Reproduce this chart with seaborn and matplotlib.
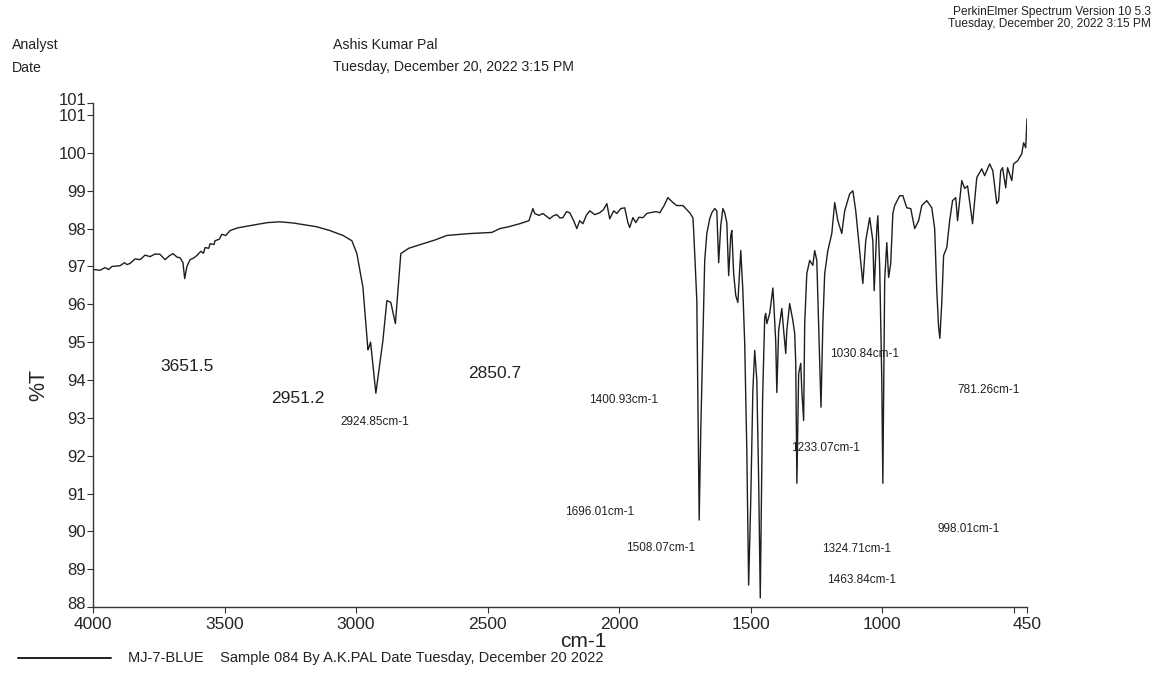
import matplotlib
matplotlib.use("Agg")
import matplotlib.pyplot as plt
import matplotlib.transforms as mtransforms
import seaborn as sns
import pandas as pd

# FT-IR spectrum: wavenumber (cm-1) and transmittance (%T)
wavenumber = [
    4000, 3973, 3954, 3940, 3928, 3897, 3880, 3871, 3859, 3840, 3821, 3802, 3783,
    3764, 3745, 3726, 3710, 3696, 3681, 3669, 3658, 3651.5, 3643, 3631, 3618, 3605,
    3590, 3580, 3574, 3560, 3555, 3540, 3536, 3520, 3510, 3495, 3479, 3450, 3403,
    3370, 3335, 3290, 3240, 3195, 3150, 3100, 3050, 3016, 2997, 2974, 2955, 2951.2,
    2945, 2924.85, 2898, 2883, 2868, 2850.7, 2830, 2800, 2769, 2700, 2655, 2568,
    2484, 2454, 2420, 2378, 2343, 2328, 2321, 2305, 2290, 2264, 2250, 2237, 2225,
    2214, 2200, 2188, 2173, 2161, 2150, 2138, 2125, 2112, 2093, 2074, 2060, 2047,
    2036, 2021, 2009, 1994, 1979, 1967, 1960, 1948, 1937, 1925, 1910, 1895, 1884,
    1860, 1846, 1830, 1815, 1796, 1781, 1758, 1732, 1720, 1717, 1705, 1696.01, 1690,
    1682, 1675, 1667, 1656, 1648, 1637, 1629, 1622, 1614, 1606, 1599, 1591, 1584,
    1576, 1572, 1565, 1557, 1549, 1542, 1538, 1530, 1523, 1515, 1508.07, 1500, 1492,
    1485, 1477, 1470, 1463.84, 1455, 1447, 1443, 1439, 1428, 1416, 1413, 1405,
    1400.93, 1394, 1382, 1375, 1367, 1363, 1352, 1340, 1333, 1329, 1324.71, 1318,
    1310, 1306, 1299, 1295, 1287, 1276, 1264, 1257, 1249, 1242, 1233.07, 1226, 1219,
    1207, 1192, 1181, 1169, 1154, 1143, 1124, 1112, 1101, 1090, 1074, 1063, 1048,
    1036, 1030.84, 1021, 1017, 1010, 1002, 998.01, 994, 991, 983, 976, 968, 960, 953,
    934, 922, 907, 892, 877, 862, 850, 831, 812, 801, 793, 786, 781.26, 774, 767,
    755, 744, 733, 721, 714, 698, 687, 676, 657, 641, 622, 611, 592, 580, 565, 558,
    550, 543, 531, 524, 508, 501, 486, 470, 463, 455, 450,
]
transmittance = [
    96.92, 96.90, 96.97, 96.92, 97.00, 97.02, 97.10, 97.05, 97.08, 97.20, 97.18, 97.30, 97.26,
    97.33, 97.32, 97.18, 97.28, 97.34, 97.25, 97.23, 97.10, 96.68, 97.00, 97.18, 97.22, 97.29,
    97.40, 97.35, 97.50, 97.48, 97.60, 97.58, 97.68, 97.72, 97.85, 97.82, 97.95, 98.02, 98.08,
    98.12, 98.16, 98.18, 98.15, 98.10, 98.05, 97.95, 97.82, 97.68, 97.34, 96.45, 94.80, 94.86,
    95.00, 93.65, 95.05, 96.10, 96.05, 95.49, 97.34, 97.48, 97.55, 97.70, 97.82, 97.87,
    97.90, 98.00, 98.05, 98.13, 98.21, 98.53, 98.40, 98.35, 98.40, 98.26, 98.34, 98.37, 98.28,
    98.29, 98.45, 98.42, 98.21, 98.00, 98.21, 98.13, 98.35, 98.47, 98.37, 98.42, 98.50, 98.66,
    98.26, 98.47, 98.40, 98.53, 98.55, 98.16, 98.03, 98.29, 98.16, 98.30, 98.29, 98.40, 98.42,
    98.45, 98.42, 98.60, 98.82, 98.69, 98.61, 98.61, 98.42, 98.29, 97.95, 96.10, 90.30, 92.67,
    95.05, 97.16, 97.87, 98.26, 98.42, 98.53, 98.47, 97.10, 98.08, 98.53, 98.42, 98.16, 96.76,
    97.82, 97.95, 96.81, 96.23, 96.05, 96.89, 97.42, 96.36, 94.97, 92.14, 88.58, 90.82, 93.73,
    94.78, 94.00, 91.36, 88.24, 93.50, 95.65, 95.76, 95.49, 95.76, 96.43, 96.10, 95.00,
    93.67, 95.31, 95.89, 95.31, 94.70, 95.31, 96.02, 95.57, 95.23, 94.44, 91.27, 94.17,
    94.44, 93.73, 92.93, 95.49, 96.81, 97.16, 97.03, 97.42, 97.16, 95.49, 93.28, 95.49, 96.81,
    97.42, 97.87, 98.69, 98.21, 97.87, 98.47, 98.92, 99.00, 98.47, 97.68, 96.55, 97.68, 98.29,
    97.68, 96.36, 98.00, 98.34, 97.00, 94.00, 91.27, 94.50, 96.63, 97.63, 96.71, 97.08, 98.40, 98.61,
    98.87, 98.87, 98.55, 98.53, 98.00, 98.21, 98.61, 98.74, 98.55, 98.00, 96.36, 95.39, 95.10, 96.05, 97.29,
    97.50, 98.21, 98.74, 98.82, 98.21, 99.27, 99.06, 99.13, 98.13, 99.35, 99.58, 99.40, 99.71, 99.53, 98.66, 98.74,
    99.53, 99.61, 99.08, 99.61, 99.27, 99.71, 99.79, 99.98, 100.27, 100.14, 100.90,
]

# Peak annotations: text and where each label sits (wavenumber, %T)
peak_labels = ["3651.5", "2951.2", "2850.7", "2924.85cm-1", "1400.93cm-1",
               "1696.01cm-1", "1508.07cm-1", "1030.84cm-1", "1233.07cm-1",
               "781.26cm-1", "998.01cm-1", "1324.71cm-1", "1463.84cm-1"]
label_wn = [3643, 3221, 2473, 2929, 1982, 2074, 1842, 1067, 1215, 596, 672, 1097, 1078]
label_t = [94.36, 93.51, 94.17, 92.88, 93.46, 90.51, 89.56, 94.70, 92.20, 93.73, 90.06, 89.53, 88.71]
label_size = [12.5, 12.5, 12.5, 8.5, 8.5, 8.5, 8.5, 8.5, 8.5, 8.5, 8.5, 8.5, 8.5]

x_ticks = [4000, 3500, 3000, 2500, 2000, 1500, 1000, 500, 450]
x_ticklabels = ["4000", "3500", "3000", "2500", "2000", "1500", "1000", "", "450"]
y_ticks = [88, 89, 90, 91, 92, 93, 94, 95, 96, 97, 98, 99, 100, 101, 101.32]
y_ticklabels = ["88", "89", "90", "91", "92", "93", "94", "95", "96", "97", "98", "99", "100", "101", "101"]

sns.set_theme(style="white")
plt.rcParams["font.family"] = ["Liberation Sans", "DejaVu Sans"]

df = pd.DataFrame({"wn": wavenumber, "T": transmittance})

fig = plt.figure(figsize=(11.55, 6.75), dpi=100)
ax = fig.add_axes([0.0805, 0.1007, 0.8087, 0.7467])

sns.lineplot(data=df, x="wn", y="T", ax=ax, color="#1e1e1e", linewidth=1.0,
             sort=False, estimator=None)

ax.set_xlim(4000, 450)
ax.set_ylim(88, 101.32)
ax.set_xticks(x_ticks)
ax.set_xticklabels(x_ticklabels, fontsize=12.5)
ax.set_yticks(y_ticks)
ax.set_yticklabels(y_ticklabels, fontsize=12)
ax.tick_params(axis="both", direction="out", length=4, width=0.8, color="#333333",
               bottom=True, left=True)
ax.tick_params(axis="x", pad=3)
ax.tick_params(axis="y", pad=1)

# lift the end-of-scale labels a little so they clear their neighbours
top_lbl = ax.get_yticklabels()[-1]
top_lbl.set_transform(top_lbl.get_transform() +
                      mtransforms.ScaledTranslation(0, 3 / 72, fig.dpi_scale_trans))
bot_lbl = ax.get_yticklabels()[0]
bot_lbl.set_transform(bot_lbl.get_transform() +
                      mtransforms.ScaledTranslation(0, 3 / 72, fig.dpi_scale_trans))

for side in ["top", "right"]:
    ax.spines[side].set_visible(False)
for side in ["left", "bottom"]:
    ax.spines[side].set_color("#333333")
    ax.spines[side].set_linewidth(1.0)

ax.set_xlabel("")
ax.set_ylabel("%T", fontsize=15.5)
ax.yaxis.set_label_coords(-0.047, 0.44)

for txt, xw, yt, fs in zip(peak_labels, label_wn, label_t, label_size):
    ax.text(xw, yt, txt, fontsize=fs, ha="center", va="center", color="#222222")

# Axis unit under the plot
fig.text(0.505, 0.050, "cm-1", fontsize=15, ha="center", va="center", color="#222222")

# Header block
fig.text(0.0105, 0.933, "Analyst", fontsize=10.2, ha="left", va="center", color="#222222")
fig.text(0.0105, 0.900, "Date", fontsize=10.2, ha="left", va="center", color="#222222")
fig.text(0.288, 0.933, "Ashis Kumar Pal", fontsize=10.2, ha="left", va="center", color="#222222")
fig.text(0.288, 0.900, "Tuesday, December 20, 2022 3:15 PM", fontsize=10.2,
         ha="left", va="center", color="#222222")
fig.text(0.9965, 0.982, "PerkinElmer Spectrum Version 10 5.3", fontsize=8.6,
         ha="right", va="center", color="#222222")
fig.text(0.9965, 0.965, "Tuesday, December 20, 2022 3:15 PM", fontsize=8.6,
         ha="right", va="center", color="#222222")

# Legend row
fig.add_artist(plt.Line2D([0.016, 0.096], [0.025, 0.025], color="#1e1e1e", linewidth=1.4))
fig.text(0.111, 0.025, "MJ-7-BLUE    Sample 084 By A.K.PAL Date Tuesday, December 20 2022",
         fontsize=10.5, ha="left", va="center", color="#222222")

fig.savefig("out.png", dpi=100, facecolor="white")
